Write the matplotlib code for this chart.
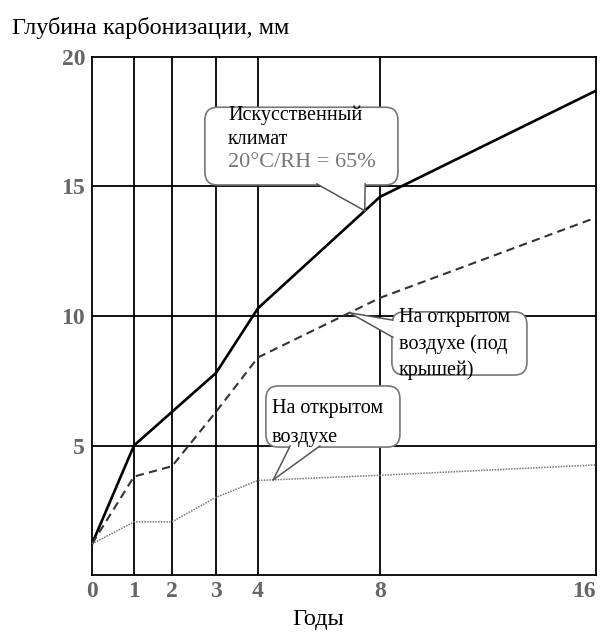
import numpy as np
import matplotlib

matplotlib.use("Agg")
import matplotlib.pyplot as plt
from matplotlib.patches import FancyBboxPatch, Polygon

plt.rcParams["font.family"] = ["Liberation Serif", "DejaVu Serif"]

# карбонизация бетона, мм, по годам
years = [0, 1, 2, 3, 4, 8, 16]
depth_climate = [1.2, 5.0, 6.3, 7.8, 10.3, 14.6, 18.7]
depth_sheltered = [1.2, 3.8, 4.2, 6.3, 8.4, 10.7, 13.8]
depth_outdoor = [1.2, 2.05, 2.05, 3.0, 3.65, 3.85, 4.25]
y_ticks = [5, 10, 15, 20]

# uneven spacing of the year axis (years 0-4 are stretched)
scale_years = [0, 1, 2, 3, 4, 8, 16]
scale_pos = [0, 42, 80, 124, 166, 288, 504]


def fwd(x):
    return np.interp(x, scale_years, scale_pos, left=-1e3, right=1e3)


def inv(x):
    return np.interp(x, scale_pos, scale_years)


fig = plt.figure(figsize=(6.04, 6.32), dpi=100)
ax = fig.add_axes([92 / 604, 57 / 632, 504 / 604, 518 / 632])
ax.set_xscale("function", functions=(fwd, inv))
ax.set_xlim(0, 16)
ax.set_ylim(0, 20)

for x in years[1:-1]:
    ax.axvline(x, color="black", lw=1.3, zorder=1)
for y in y_ticks[:-1]:
    ax.axhline(y, color="black", lw=1.3, zorder=1)
for s in ax.spines.values():
    s.set_linewidth(1.3)

ax.plot(years, depth_climate, color="black", lw=1.9, zorder=3)
ax.plot(years, depth_sheltered, color="#333333", lw=1.5, dashes=(4, 2.5), zorder=3)
ax.plot(years, depth_outdoor, color="#777777", lw=1.1, ls=(0, (1, 0.8)), zorder=3)

ax.set_xticks(years)
ax.set_xticklabels([str(v) for v in years])
ax.set_yticks(y_ticks)
ax.tick_params(length=0, labelsize=17, labelcolor="#666666")
ax.tick_params(axis="y", pad=5)
ax.tick_params(axis="x", pad=4)
for lab in ax.get_xticklabels() + ax.get_yticklabels():
    lab.set_fontweight("bold")
ax.get_xticklabels()[-1].set_horizontalalignment("right")

fig.text(12 / 604, 1 - 28 / 632, "Глубина карбонизации, мм", fontsize=17.5,
         va="center", ha="left")
fig.text(318 / 604, 1 - 619 / 632, "Годы", fontsize=17.5, va="center", ha="center")


def callout(box, base, year, series, lines):
    """Rounded note box (axes fraction) with a tail pointing at a curve."""
    x0, y0, x1, y1 = box
    tip = (year, float(np.interp(year, years, series)))
    patch = FancyBboxPatch((x0, y0), x1 - x0, y1 - y0, transform=ax.transAxes,
                           boxstyle="round,pad=0,rounding_size=0.025",
                           fc="white", ec="#777777", lw=1.2, zorder=4,
                           clip_on=False)
    ax.add_patch(patch)
    tip_ax = ax.transAxes.inverted().transform(ax.transData.transform(tip))
    tail = Polygon([base[0], tip_ax, base[1]], closed=False,
                   transform=ax.transAxes, fc="white", ec="none", zorder=5)
    ax.add_patch(tail)
    for b in base:
        ax.plot([b[0], tip_ax[0]], [b[1], tip_ax[1]], transform=ax.transAxes,
                color="#555555", lw=1.1, zorder=6)
    for tx, ty, s, kw in lines:
        ax.text(tx, ty, s, transform=ax.transAxes, va="center", ha="left",
                zorder=7, **kw)


callout((0.224, 0.753, 0.607, 0.903), [(0.446, 0.755), (0.542, 0.755)],
        7.5, depth_climate,
        [(0.270, 0.888, "Искусственный", dict(fontsize=14.5)),
         (0.270, 0.840, "климат", dict(fontsize=14.5)),
         (0.270, 0.797, "20°C/RH = 65%", dict(fontsize=16, color="#777777"))])
callout((0.595, 0.386, 0.863, 0.508), [(0.597, 0.492), (0.597, 0.459)],
        7.0, depth_sheltered,
        [(0.609, 0.497, "На открытом", dict(fontsize=14.5)),
         (0.609, 0.445, "воздухе (под", dict(fontsize=14.5)),
         (0.609, 0.395, "крышей)", dict(fontsize=14.5))])
callout((0.345, 0.247, 0.611, 0.365), [(0.393, 0.249), (0.452, 0.249)],
        4.5, depth_outdoor,
        [(0.357, 0.322, "На открытом", dict(fontsize=14.5)),
         (0.357, 0.266, "воздухе", dict(fontsize=14.5))])

fig.savefig("out.png", dpi=100)
